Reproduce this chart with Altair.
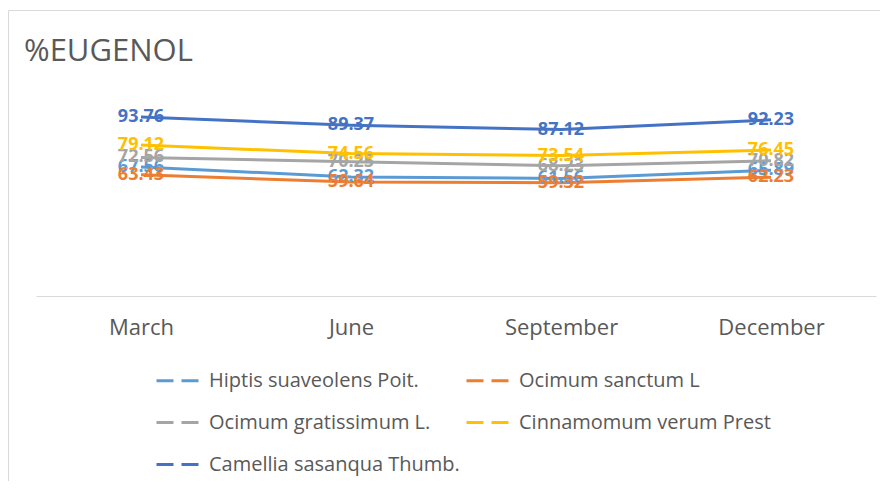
import altair as alt
import pandas as pd

months = ["March", "June", "September", "December"]
series = ["Hiptis suaveolens Poit.", "Ocimum sanctum L", "Ocimum gratissimum L.",
          "Cinnamomum verum Prest", "Camellia sasanqua Thumb."]
hiptis = [67.56, 62.32, 61.56, 65.89]
sanctum = [63.43, 59.64, 59.32, 62.23]
gratissimum = [72.56, 70.25, 68.23, 70.82]
cinnamomum = [79.12, 74.56, 73.54, 76.45]
camellia = [93.76, 89.37, 87.12, 92.23]
colors = ["#5B9BD5", "#ED7D31", "#A5A5A5", "#FFC000", "#4472C4"]
# legend is filled column by column; this order gives the reference's row-by-row layout
legend_order = ["Hiptis suaveolens Poit.", "Ocimum gratissimum L.", "Camellia sasanqua Thumb.",
                "Ocimum sanctum L", "Cinnamomum verum Prest"]

vals = [hiptis, sanctum, gratissimum, cinnamomum, camellia]
rows = []
for s, v in zip(series, vals):
    for m, y in zip(months, v):
        rows.append({"month": m, "series": s, "value": y})
df = pd.DataFrame(rows)

font = "Open Sans"
color_scale = alt.Scale(domain=legend_order,
                        range=[colors[series.index(s)] for s in legend_order])

x = alt.X("month:N", sort=months, scale=alt.Scale(type="point", padding=0.5),
          axis=alt.Axis(title=None, ticks=False, domain=True, domainColor="#D9D9D9",
                        domainWidth=1, labelAngle=0, labelFontSize=22, labelColor="#595959",
                        labelFont=font, labelPadding=21, grid=False))
y = alt.Y("value:Q", scale=alt.Scale(domain=[0, 100]), axis=None)

border = alt.Chart(pd.DataFrame({"a": [0]})).mark_rect(
    fill=None, stroke="#D9D9D9", strokeWidth=1, clip=False
).encode(x=alt.value(-27.5), x2=alt.value(860), y=alt.value(-94.5), y2=alt.value(400))

title = alt.Chart(pd.DataFrame({"t": ["%EUGENOL"]})).mark_text(
    font=font, fontSize=31, color="#595959", align="left", baseline="alphabetic"
).encode(x=alt.value(-12), y=alt.value(-44), text="t:N")

lines = alt.Chart(df).mark_line(strokeWidth=3).encode(
    x=x, y=y,
    color=alt.Color("series:N", scale=color_scale, sort=legend_order,
                    legend=alt.Legend(title=None, orient="none", legendX=119, legendY=253,
                                      columns=2, symbolType="stroke", symbolSize=1764,
                                      symbolStrokeWidth=3, symbolDash=[17, 8],
                                      labelFont=font, labelFontSize=20, labelColor="#595959",
                                      rowPadding=9, columnPadding=0, labelOffset=9,
                                      labelLimit=400)),
    detail="series:N",
)

labels = alt.Chart(df).mark_text(fontSize=18, fontWeight="bold", font=font,
                                 align="center", baseline="middle").encode(
    x=x, y=y, text=alt.Text("value:Q", format=".2f"),
    color=alt.Color("series:N", scale=color_scale, legend=None),
)

chart = alt.layer(border, title, lines, labels).properties(
    width=840, height=191,
    autosize=alt.AutoSizeParams(type="none"),
    padding={"left": 28, "top": 97, "right": 4, "bottom": 185},
).configure_view(stroke=None)

chart.save("out.html", embed_options={"renderer": "svg", "actions": False})
